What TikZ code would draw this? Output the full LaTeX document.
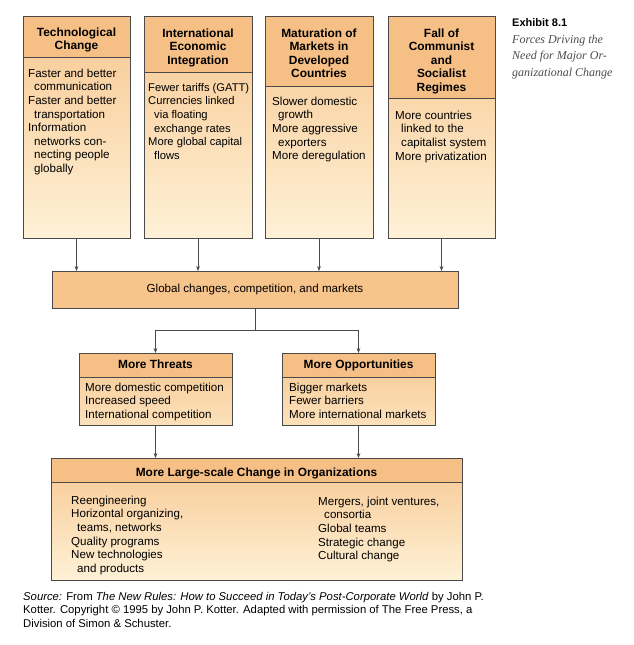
\documentclass[tikz,border=0pt]{standalone}
\usepackage{fontspec}
\setmainfont{Liberation Sans}
\newfontfamily\serifit{Liberation Serif}
\usetikzlibrary{arrows.meta,calc}
\definecolor{headc}{HTML}{F6BF85}
\definecolor{globc}{HTML}{F7C48B}
\definecolor{bodytop}{HTML}{F8C892}
\definecolor{bodybot}{HTML}{FEF1D6}
\definecolor{linec}{HTML}{4A4A4A}
\newcommand{\ind}{\hspace*{6pt}}
\newcommand{\fl}{\rule{0pt}{9pt}}
\tikzset{
 panel/.style={draw=linec, line width=0.7pt, inner sep=0pt, outer sep=0pt, anchor=north west, top color=bodytop, bottom color=bodybot},
 header/.style={draw=linec, line width=0.7pt, inner sep=0pt, outer sep=0pt, anchor=north west, fill=headc},
 bodytxt/.style={align=left, anchor=north west, inner sep=0pt, yshift=9pt, font=\fontsize{11.6}{13.6}\selectfont},
 headtxt/.style={align=center, anchor=north, inner sep=0pt, yshift=9pt, font=\fontsize{11.9}{13.5}\selectfont\bfseries},
 arr/.style={draw=linec, line width=0.6pt, -{Stealth[length=5pt,width=3.8pt]}},
}
\begin{document}
\begin{tikzpicture}[x=1pt,y=-1pt]
\useasboundingbox[fill=white] (0,0) rectangle (633,645);
% top boxes
\node[panel, minimum width=107pt, minimum height=222pt] (b1) at (23,16) {};
\node[header, minimum width=107pt, minimum height=41pt] (b1h) at (23,16) {};
\node[panel, minimum width=108pt, minimum height=222pt] (b2) at (144,16) {};
\node[header, minimum width=108pt, minimum height=56pt] (b2h) at (144,16) {};
\node[panel, minimum width=108pt, minimum height=222pt] (b3) at (265,16) {};
\node[header, minimum width=108pt, minimum height=70pt] (b3h) at (265,16) {};
\node[panel, minimum width=107pt, minimum height=222pt] (b4) at (388,16) {};
\node[header, minimum width=107pt, minimum height=82pt] (b4h) at (388,16) {};
% header texts
\node[headtxt] (t1) at (76.5,36) {\fl Technological\\Change};
\node[headtxt] (t2) at (198,37) {\fl International\\Economic\\Integration};
\node[headtxt] (t3) at (319,37) {\fl Maturation of\\Markets in\\Developed\\Countries};
\node[headtxt] (t4) at (441.5,37) {\fl Fall of\\Communist\\and\\Socialist\\Regimes};
% body texts
\node[bodytxt] (x1) at (28,77) {\fl Faster and better\\\ind communication\\Faster and better\\\ind transportation\\Information\\\ind networks con-\\\ind necting people\\\ind globally};
\node[bodytxt, font=\fontsize{11.2}{13.6}\selectfont] (x2) at (148,91) {\fl Fewer tariffs (GATT)\\Currencies linked\\\ind via floating\\\ind exchange rates\\More global capital\\\ind flows};
\node[bodytxt] (x3) at (272,105) {\fl Slower domestic\\\ind growth\\More aggressive\\\ind exporters\\More deregulation};
\node[bodytxt] (x4) at (395,119) {\fl More countries\\\ind linked to the\\\ind capitalist system\\More privatization};
% global box
\node[header, fill=globc, minimum width=406pt, minimum height=37pt] (glob) at (52,271) {};
\node[bodytxt, anchor=base, yshift=-9pt] (globt) at (255,292) {Global changes, competition, and markets};
% threats / opportunities
\node[panel, bottom color=bodybot!60!bodytop, minimum width=153pt, minimum height=72pt] (thr) at (79,353) {};
\node[header, minimum width=153pt, minimum height=24pt] (thrh) at (79,353) {};
\node[panel, bottom color=bodybot!60!bodytop, minimum width=153pt, minimum height=72pt] (opp) at (282,353) {};
\node[header, minimum width=153pt, minimum height=24pt] (opph) at (282,353) {};
\node[headtxt] (thrt) at (155.5,368) {\fl More Threats};
\node[headtxt] (oppt) at (358.5,368) {\fl More Opportunities};
\node[bodytxt] (thrx) at (85,391) {\fl More domestic competition\\Increased speed\\International competition};
\node[bodytxt] (oppx) at (289,391) {\fl Bigger markets\\Fewer barriers\\More international markets};
% big box
\node[panel, minimum width=411pt, minimum height=122pt] (big) at (51,458) {};
\node[header, minimum width=411pt, minimum height=24pt] (bigh) at (51,458) {};
\node[headtxt] (bigt) at (256.5,476) {\fl More Large-scale Change in Organizations};
\node[bodytxt] (bigl) at (71,504) {\fl Reengineering\\Horizontal organizing,\\\ind teams, networks\\Quality programs\\New technologies\\\ind and products};
\node[bodytxt] (bigr) at (318,505) {\fl Mergers, joint ventures,\\\ind consortia\\Global teams\\Strategic change\\Cultural change};
% connectors
\draw[arr] (b1.south) -- (b1.south |- glob.north);
\draw[arr] (b2.south) -- (b2.south |- glob.north);
\draw[arr] (b3.south) -- (b3.south |- glob.north);
\draw[arr] (b4.south) -- (b4.south |- glob.north);
\coordinate (split) at ($(glob.south)+(0,22)$);
\draw[arr] (glob.south) -- (split) -| (thr.north);
\draw[arr] (split) -| (opp.north);
\draw[arr] (thr.south) -- (thr.south |- big.north);
\draw[arr] (opp.south) -- (opp.south |- big.north);
% exhibit caption
\node[anchor=base west, inner sep=0pt, font=\fontsize{11}{13}\selectfont\bfseries] (exh) at (512,27) {Exhibit 8.1};
\node[anchor=north west, inner sep=0pt, yshift=9pt, align=left, font=\fontsize{12}{16.5}\selectfont\serifit\itshape, text=black!70] (exht) at (512,43) {\fl Forces Driving the\\Need for Major Or-\\ganizational Change};
% source
\node[anchor=north west, inner sep=0pt, yshift=9pt, align=left, font=\fontsize{11.3}{13.6}\selectfont] (src) at (23,600) {\fl\textit{Source:} From \textit{The New Rules: How to Succeed in Today’s Post-Corporate World} by John P.\\Kotter. Copyright © 1995 by John P. Kotter. Adapted with permission of The Free Press, a\\Division of Simon \& Schuster.};
\end{tikzpicture}
\end{document}
